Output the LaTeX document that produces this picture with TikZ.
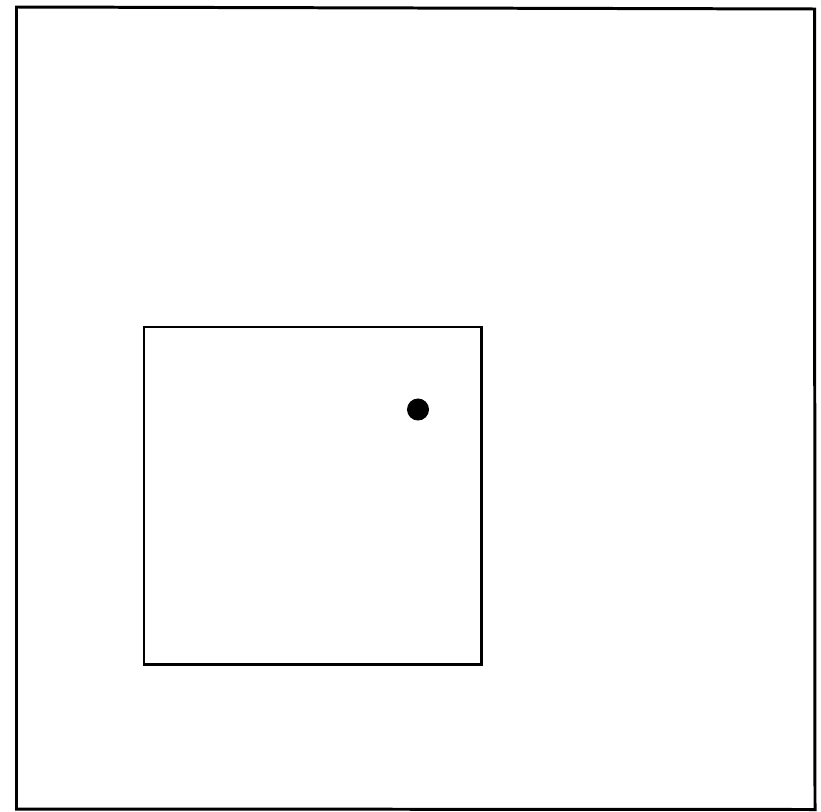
\documentclass[tikz,border=0pt]{standalone}
\begin{document}
\begin{tikzpicture}[x=0.01cm,y=-0.01cm,
  frame/.style={draw=black,line width=0.85pt},
  dotmark/.style={fill=black,circle,inner sep=0pt,minimum size=0.22cm}]
\useasboundingbox (0,0) rectangle (821,812);
\draw[frame] (16.5,7) -- (814.5,9) -- (815,809.5) -- (16.5,809) -- cycle;
\draw[frame] (144,327) rectangle (481.5,664.5);
\node[dotmark] (dot) at (418,409.5) {};
\end{tikzpicture}
\end{document}
